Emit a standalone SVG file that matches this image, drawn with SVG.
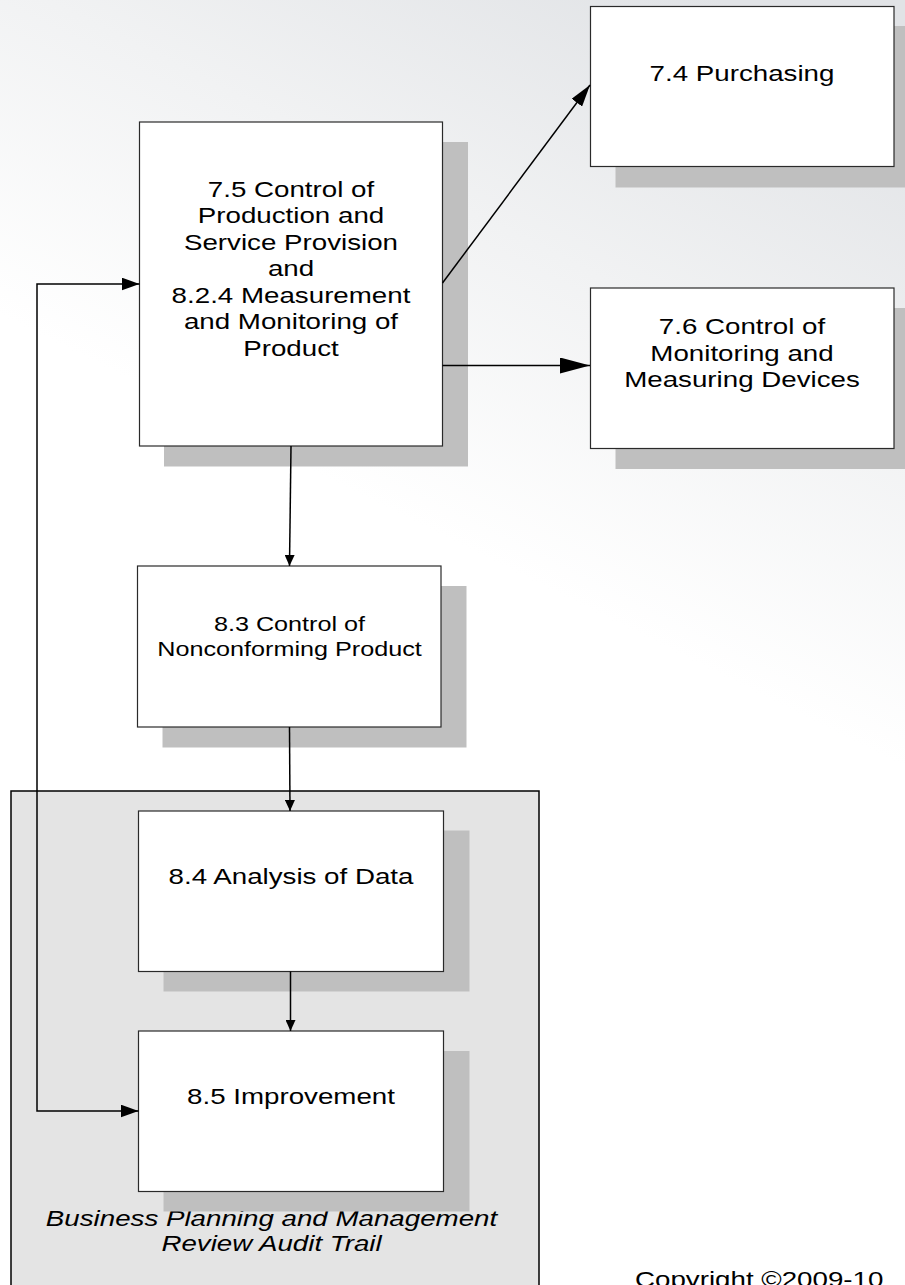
<svg xmlns="http://www.w3.org/2000/svg" width="905" height="1285" viewBox="0 0 905 1285">
<defs>
<linearGradient id="bg" gradientUnits="userSpaceOnUse" x1="720" y1="0" x2="450" y2="540">
<stop offset="0" stop-color="#e1e3e6"/>
<stop offset="0.5" stop-color="#f1f2f3"/>
<stop offset="1" stop-color="#ffffff"/>
</linearGradient>
<marker id="ahBig" viewBox="0 0 18 13" refX="18" refY="6.5" markerWidth="18" markerHeight="13" markerUnits="userSpaceOnUse" orient="auto-start-reverse">
<path d="M0,0 L18,6.5 L0,13 Z" fill="#000"/>
</marker>
<marker id="ahDiag" viewBox="0 0 22 13" refX="22" refY="6.5" markerWidth="22" markerHeight="13" markerUnits="userSpaceOnUse" orient="auto">
<path d="M0,0 L22,6.5 L0,13 Z" fill="#000"/>
</marker>
<marker id="ahWide" viewBox="0 0 30 16" refX="30" refY="8" markerWidth="30" markerHeight="16" markerUnits="userSpaceOnUse" orient="auto">
<path d="M0,0 L30,8 L0,16 Z" fill="#000"/>
</marker>
<marker id="ahSmall" viewBox="0 0 11 10" refX="11" refY="5" markerWidth="11" markerHeight="10" markerUnits="userSpaceOnUse" orient="auto">
<path d="M0,0 L11,5 L0,10 Z" fill="#000"/>
</marker>
</defs>
<style>
.shadow{fill:#bfbfbf;}
.box{fill:#ffffff;stroke:#2a2a2a;stroke-width:1.2;}
.lbl{font-family:"Liberation Sans",Arial,sans-serif;font-size:22px;fill:#000;text-anchor:middle;}
.lbl20{font-family:"Liberation Sans",Arial,sans-serif;font-size:20px;fill:#000;text-anchor:middle;}
.ital{font-family:"Liberation Sans",Arial,sans-serif;font-size:22px;font-style:italic;fill:#000;text-anchor:middle;}
.conn{fill:none;stroke:#000;stroke-width:1.5;}
</style>
<rect x="0" y="0" width="905" height="1285" fill="url(#bg)"/>

<g id="group-audit-trail">
<rect x="11" y="791" width="528" height="520" fill="#e4e4e4" stroke="#000" stroke-width="1.5"/>
<g transform="translate(271.5 0) scale(1.26 1)">
<text class="ital" x="0" y="1226.5">Business Planning and Management</text>
<text class="ital" x="0" y="1251">Review Audit Trail</text>
</g>
</g>

<g id="node-7-5">
<rect class="shadow" x="164" y="142" width="304" height="324.5"/>
<rect class="box" x="139.5" y="122" width="303" height="324"/>
<g transform="translate(291 0) scale(1.26 1)">
<text class="lbl" x="0" y="197">7.5 Control of</text>
<text class="lbl" x="0" y="223.5">Production and</text>
<text class="lbl" x="0" y="250">Service Provision</text>
<text class="lbl" x="0" y="276.5">and</text>
<text class="lbl" x="0" y="303">8.2.4 Measurement</text>
<text class="lbl" x="0" y="329.5">and Monitoring of</text>
<text class="lbl" x="0" y="356">Product</text>
</g>
</g>

<g id="node-7-4">
<rect class="shadow" x="615.5" y="26" width="300" height="161.5"/>
<rect class="box" x="590.5" y="6.5" width="303.5" height="160"/>
<g transform="translate(742 0) scale(1.26 1)">
<text class="lbl" x="0" y="81">7.4 Purchasing</text>
</g>
</g>

<g id="node-7-6">
<rect class="shadow" x="615.5" y="308" width="300" height="161"/>
<rect class="box" x="590.5" y="288" width="303.5" height="160.5"/>
<g transform="translate(742 0) scale(1.26 1)">
<text class="lbl" x="0" y="334.5">7.6 Control of</text>
<text class="lbl" x="0" y="361">Monitoring and</text>
<text class="lbl" x="0" y="387.5">Measuring Devices</text>
</g>
</g>

<g id="node-8-3">
<rect class="shadow" x="162.5" y="586" width="304" height="161.5"/>
<rect class="box" x="137.5" y="566" width="303.5" height="161"/>
<g transform="translate(289.5 0) scale(1.26 1)">
<text class="lbl20" x="0" y="631.5">8.3 Control of</text>
<text class="lbl20" x="0" y="656">Nonconforming Product</text>
</g>
</g>

<g id="node-8-4">
<rect class="shadow" x="163.5" y="830.5" width="306" height="161"/>
<rect class="box" x="138.5" y="811" width="305" height="160.5"/>
<g transform="translate(291 0) scale(1.26 1)">
<text class="lbl" x="0" y="884.5">8.4 Analysis of Data</text>
</g>
</g>

<g id="node-8-5">
<rect class="shadow" x="163.5" y="1051" width="306" height="160.5"/>
<rect class="box" x="138.5" y="1031" width="305" height="160.5"/>
<g transform="translate(291 0) scale(1.26 1)">
<text class="lbl" x="0" y="1104">8.5 Improvement</text>
</g>
</g>

<g id="connectors">
<path class="conn" d="M442.5,283 L590,85" marker-end="url(#ahDiag)"/>
<path class="conn" d="M442.5,365.5 L590,365.5" stroke-width="2.5" marker-end="url(#ahWide)"/>
<path class="conn" d="M291,446 L289.5,566" marker-end="url(#ahSmall)"/>
<path class="conn" d="M289.5,727 L290,811" marker-end="url(#ahSmall)"/>
<path class="conn" d="M290.5,971.5 L290.5,1031" marker-end="url(#ahSmall)"/>
<path class="conn" d="M138.5,1111 L37,1111 L37,284 L139.5,284" marker-start="url(#ahBig)" marker-end="url(#ahBig)"/>
</g>

<g id="copyright">
<g transform="translate(635 0) scale(1.26 1)">
<text x="0" y="1287" style="font-family:'Liberation Sans',Arial,sans-serif;font-size:22px;fill:#000;">Copyright ©2009-10</text>
</g>
</g>
</svg>
